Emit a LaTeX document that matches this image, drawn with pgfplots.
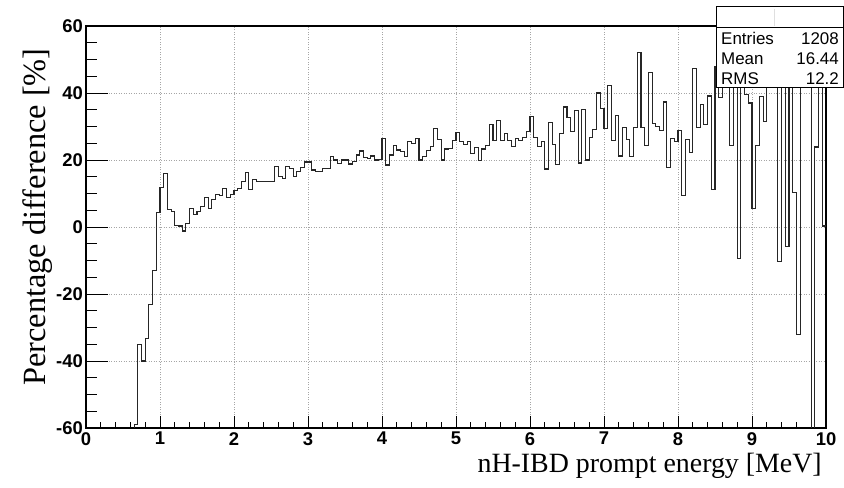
\documentclass[border=0pt]{standalone}
\usepackage{pgfplots}
\pgfplotsset{compat=1.18}
\usepackage{fontspec}
\setmainfont{Liberation Serif}
\newfontfamily\hel{Liberation Sans}

\pgfplotsset{
  rootframe/.style={
    at={(86bp,60bp)}, anchor=south west,
    scale only axis, width=740bp, height=402bp,
    xmin=0, xmax=10, ymin=-60, ymax=60,
    grid style={gray!70, dash pattern=on 1bp off 1.5bp, line width=0.7bp},
    tick align=inside, tick pos=left,
    tick style={line width=0.9bp, black},
    axis line style={line width=1.1bp},
    tick label style={font=\hel\bfseries\fontsize{18.5}{18.5}\selectfont, inner sep=2bp},
  }
}

\begin{document}
\begin{tikzpicture}
\useasboundingbox (0,0) rectangle (844bp,488bp);
% x ticks and vertical grid
\begin{axis}[
  rootframe,
  xtick={0,1,...,10},
  xticklabels={0,1,2,3,4,5,6,7,8,9,10},
  minor x tick num=4,
  ytick=\empty,
  xmajorgrids,
  major tick length=12bp, minor tick length=6bp,
  xticklabel style={yshift=-2bp},
]
\end{axis}
% y ticks, horizontal grid and data
\begin{axis}[
  rootframe,
  xtick=\empty,
  ytick={-60,-40,...,60},
  yticklabels={-60,-40,-20,0,20,40,60},
  minor y tick num=3,
  ymajorgrids,
  major tick length=22bp, minor tick length=11bp,
  yticklabel style={xshift=-1bp},
  clip=true,
]
\addplot[const plot mark left, black!85, line width=1.15bp, mark=none] coordinates {
(0.00,-100)(0.05,-100)(0.10,-100)(0.15,-100)(0.20,-100)(0.25,-100)(0.30,-100)(0.35,-100)(0.40,-100)(0.45,-100)(0.50,-100)(0.55,-100)(0.60,-100)
(0.65,-59)(0.70,-35)(0.75,-40)(0.80,-33.2)(0.85,-23.2)(0.90,-13)(0.95,4.3)
(1.00,11.7)(1.05,15.9)(1.10,5.1)(1.15,4.6)(1.20,0.4)(1.25,0.3)(1.30,-1.2)(1.35,1.1)(1.40,5.6)(1.45,3.7)
(1.50,4.6)(1.55,6.1)(1.60,8.8)(1.65,5.4)(1.70,8.3)(1.75,9.7)(1.80,9.3)(1.85,11.4)(1.90,8.8)(1.95,9.8)
(2.00,11.0)(2.05,11.5)(2.10,13.6)(2.15,16.2)(2.20,11.2)(2.25,14.1)(2.30,13.5)(2.35,13.5)(2.40,13.5)(2.45,13.5)
(2.50,13.5)(2.55,18.0)(2.60,15.2)(2.65,14.5)(2.70,18.0)(2.75,17.4)(2.80,15.0)(2.85,16.5)(2.90,17.8)(2.95,19.4)
(3.00,19.4)(3.05,17.0)(3.10,16.6)(3.15,16.6)(3.20,17.5)(3.25,17.5)(3.30,21.0)(3.35,20.0)(3.40,19.0)(3.45,20.0)
(3.50,20.0)(3.55,18.8)(3.60,19.5)(3.65,21.5)(3.70,22.7)(3.75,20.8)(3.80,20.5)(3.85,21.2)(3.90,20.0)(3.95,20.2)
(4.00,26.4)(4.05,18.5)(4.10,21.5)(4.15,24.3)(4.20,23.0)(4.25,22.5)(4.30,21.0)(4.35,25.4)(4.40,24.8)(4.45,26.5)
(4.50,20.0)(4.55,21.1)(4.60,22.8)(4.65,24.0)(4.70,29.3)(4.75,26.1)(4.80,20.0)(4.85,23.3)(4.90,23.5)(4.95,25.8)
(5.00,28.3)(5.05,25.5)(5.10,24.6)(5.15,25.5)(5.20,22.0)(5.25,23.8)(5.30,19.8)(5.35,23.3)(5.40,24.3)(5.45,30.5)
(5.50,25.8)(5.55,31.8)(5.60,25.8)(5.65,28.0)(5.70,25.8)(5.75,24.0)(5.80,26.3)(5.85,25.8)(5.90,26.8)(5.95,28.5)
(6.00,33.1)(6.05,26.8)(6.10,24.1)(6.15,25.5)(6.20,17.3)(6.25,31.3)(6.30,24.5)(6.35,18.7)(6.40,28.0)(6.45,35.8)
(6.50,32.8)(6.55,28.5)(6.60,34.7)(6.65,19.1)(6.70,35.0)(6.75,20.0)(6.80,26.8)(6.85,29.0)(6.90,40.0)(6.95,35.3)
(7.00,29.4)(7.05,42.2)(7.10,25.8)(7.15,33.3)(7.20,21.2)(7.25,29.6)(7.30,26.2)(7.35,21.1)(7.40,29.6)(7.45,52.0)
(7.50,29.6)(7.55,24.4)(7.60,46.0)(7.65,31.0)(7.70,29.9)(7.75,28.9)(7.80,37.3)(7.85,17.7)(7.90,26.4)(7.95,25.4)
(8.00,28.9)(8.05,9.3)(8.10,26.2)(8.15,22.2)(8.20,47.2)(8.25,29.6)(8.30,36.5)(8.35,30.6)(8.40,39.1)(8.45,11.3)
(8.50,48)(8.55,38.7)(8.60,41.8)(8.65,50)(8.70,24.4)(8.75,50)(8.80,-9.4)(8.85,42)(8.90,39.5)(8.95,37)
(9.00,5.6)(9.05,24.4)(9.10,39)(9.15,31.5)(9.20,50)(9.25,48)(9.30,46)(9.35,-10.3)(9.40,50)(9.45,-5.9)
(9.50,50)(9.55,10.2)(9.60,-32.2)(9.65,50)(9.70,48)(9.75,50)(9.80,-100)(9.85,23.9)(9.90,50)(9.95,0.3)
(10.00,0.3)
};
\end{axis}
% statistics box
\draw[fill=white, line width=1bp] (716bp,400bp) rectangle (843.5bp,481bp);
\draw[line width=1bp] (716bp,460bp) -- (843.5bp,460bp);
\draw[gray!25, line width=0.6bp] (774bp,462bp) -- (774bp,479bp);
\node[anchor=base west, inner sep=0, font=\hel\fontsize{17}{17}\selectfont] at (721bp,443bp) {Entries};
\node[anchor=base east, inner sep=0, font=\hel\fontsize{17}{17}\selectfont] at (839bp,443bp) {1208};
\node[anchor=base west, inner sep=0, font=\hel\fontsize{17}{17}\selectfont] at (721bp,423bp) {Mean};
\node[anchor=base east, inner sep=0, font=\hel\fontsize{17}{17}\selectfont] at (839bp,423bp) {16.44};
\node[anchor=base west, inner sep=0, font=\hel\fontsize{17}{17}\selectfont] at (721bp,403bp) {RMS};
\node[anchor=base east, inner sep=0, font=\hel\fontsize{17}{17}\selectfont] at (839bp,403bp) {12.2};
% axis titles
\node[anchor=base east, inner sep=0, font=\fontsize{28}{28}\selectfont] at (822bp,16bp) {nH-IBD prompt energy [MeV]};
\node[rotate=90, anchor=base, inner sep=0, font=\fontsize{32.5}{32.5}\selectfont] at (45bp,271bp) {Percentage difference [\%]};
\end{tikzpicture}
\end{document}
